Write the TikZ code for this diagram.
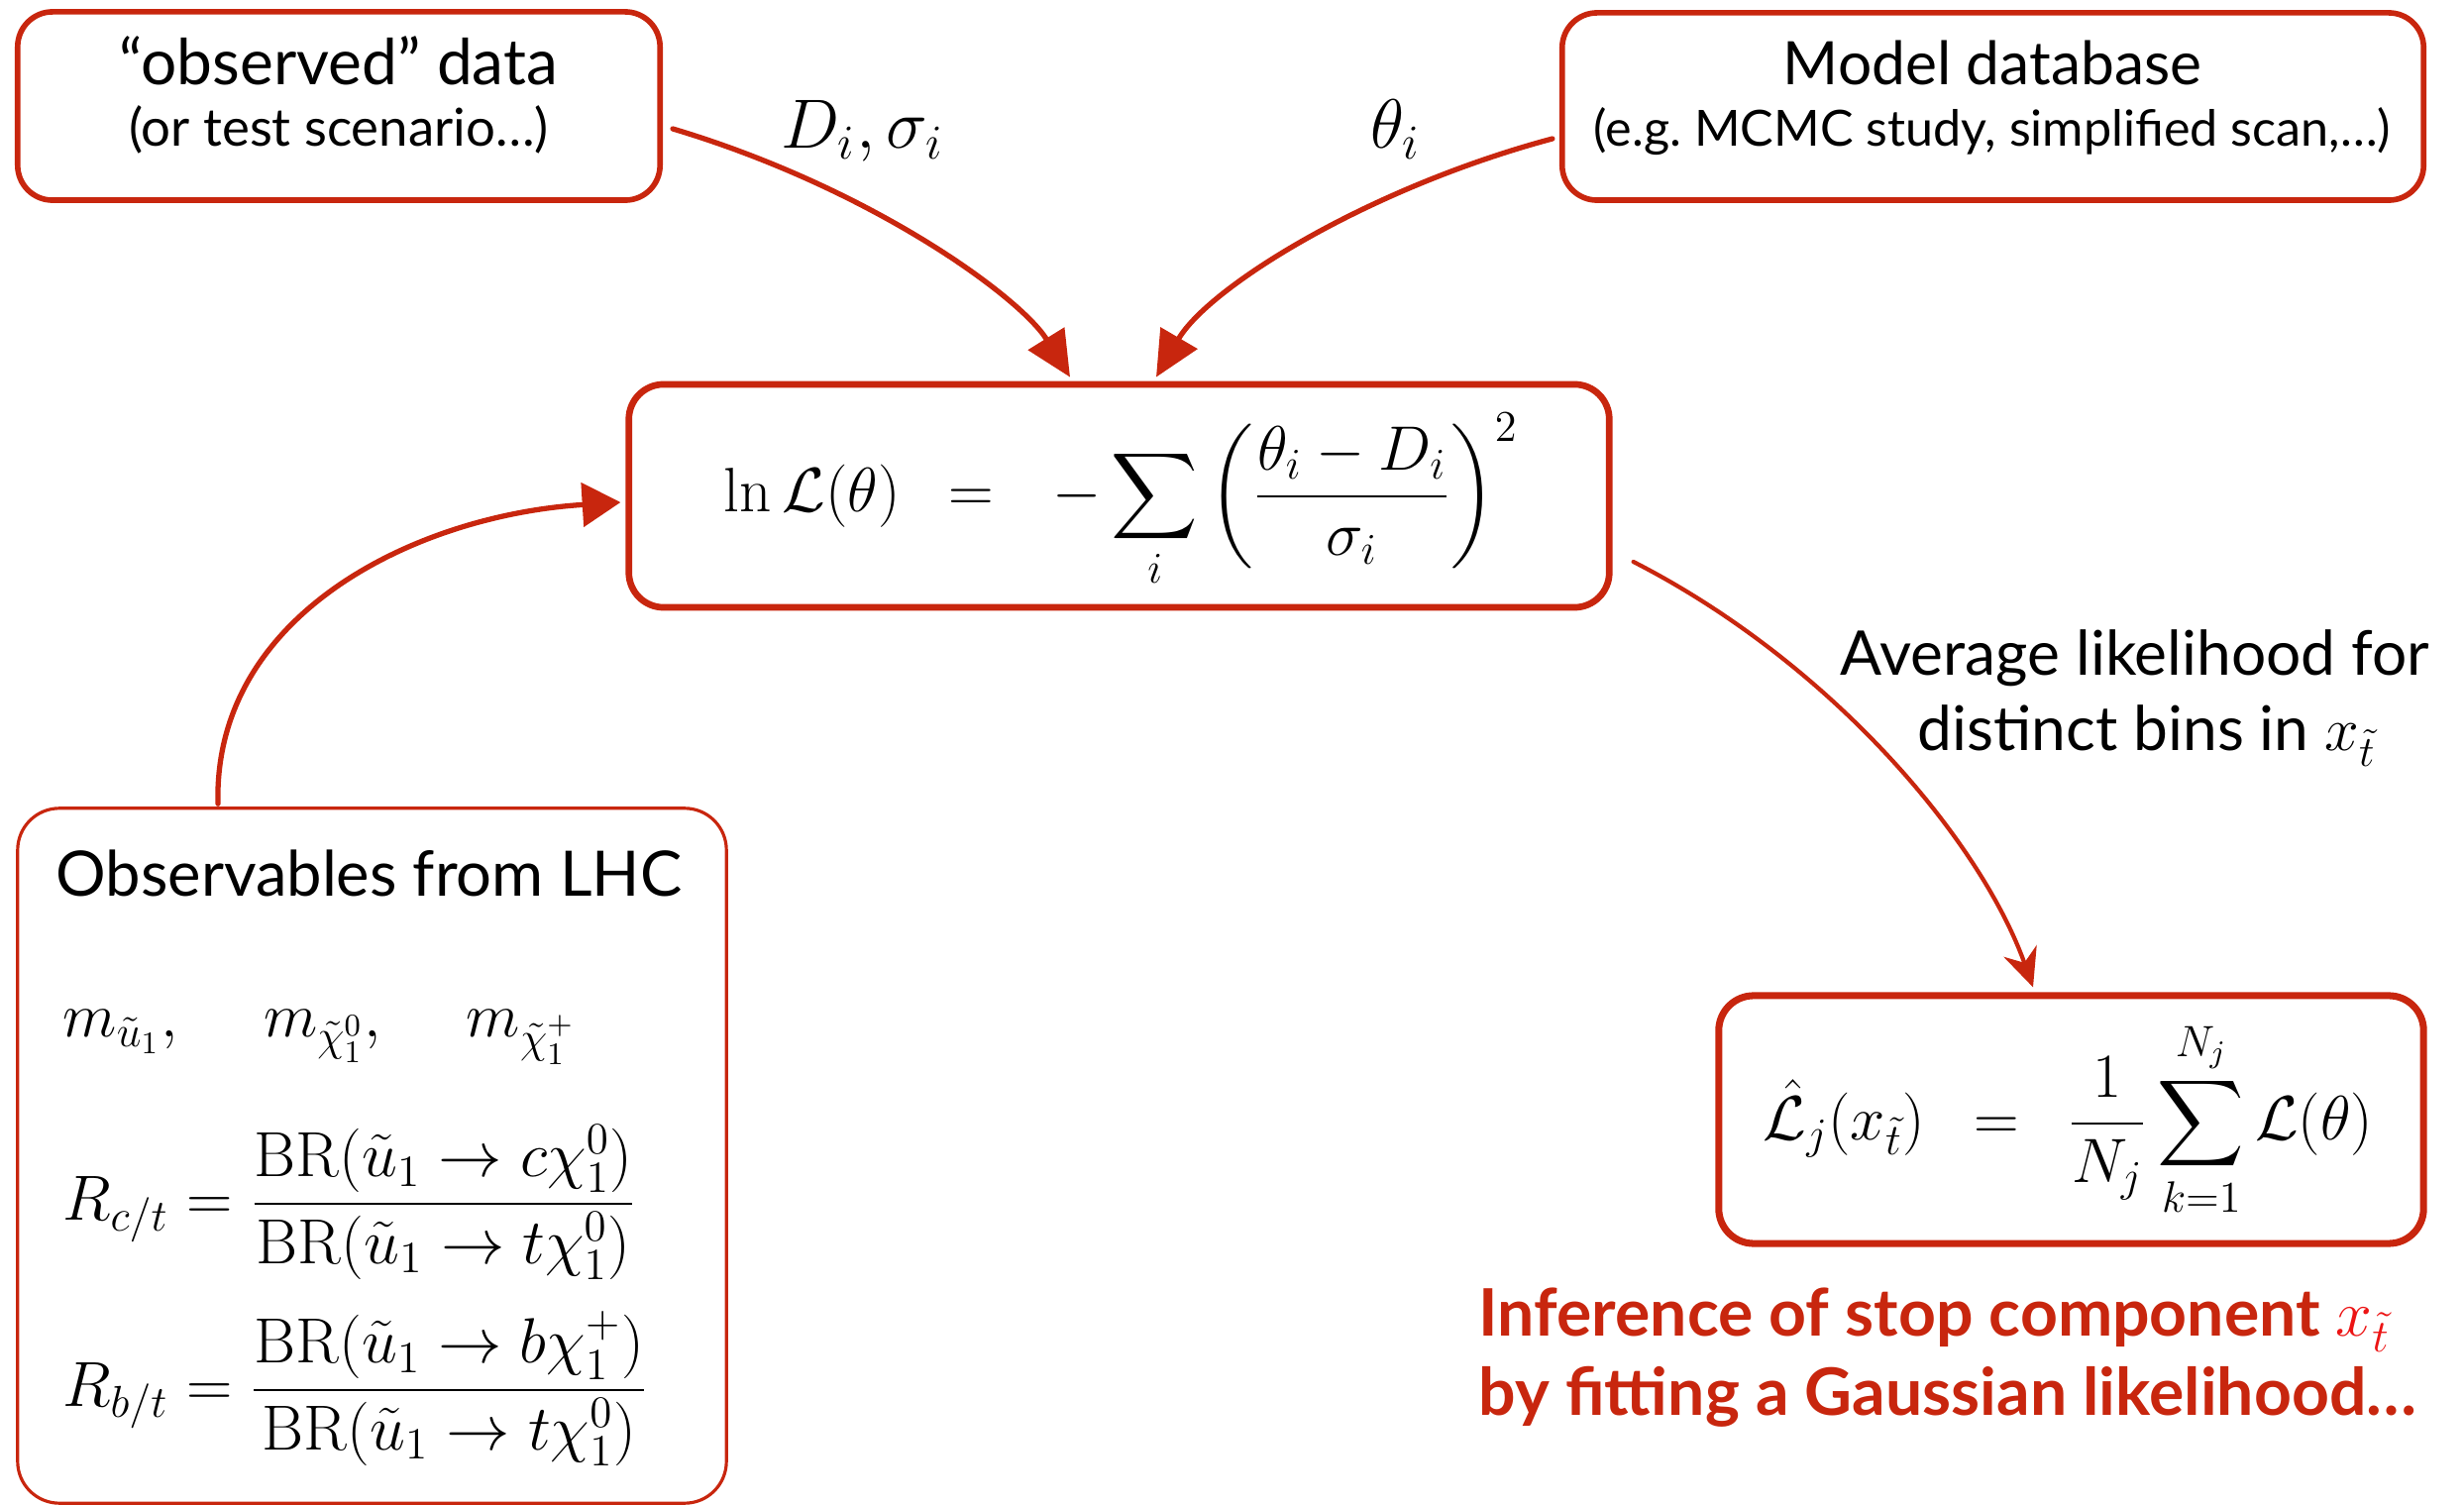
\RequirePackage{fix-cm}
\documentclass[tikz,border=0pt]{standalone}
\usepackage{amsmath}
\usepackage[no-math]{fontspec}
\setmainfont{Lato}
\usetikzlibrary{arrows.meta,calc}
\definecolor{brush}{RGB}{200,38,14}
\definecolor{mathred}{RGB}{236,20,20}
\begin{document}
\begin{tikzpicture}[x=0.01cm,y=-0.01cm,
  box/.style={draw=brush, rounded corners=10pt, inner sep=0pt},
  conn/.style={draw=brush, line width=1.5pt, line cap=round, -{Triangle[length=13pt,width=12pt]}},
  txt/.style={inner sep=0pt},
  mth/.style={inner sep=0pt, font=\fontsize{18}{22}\selectfont}
]
\useasboundingbox (0,0) rectangle (2487,1519);

% boxes
\node[box, line width=1.6pt, minimum width=6.48cm, minimum height=1.9cm] (obs) at (342,107) {};
\node[box, line width=1.6pt, minimum width=8.69cm, minimum height=1.89cm] (db) at (2011.5,107.5) {};
\node[box, line width=1.9pt, minimum width=9.89cm, minimum height=2.25cm] (lik) at (1129.5,500.5) {};
\node[box, line width=2pt, minimum width=7.11cm, minimum height=2.5cm] (avg) at (2090.5,1130) {};
\node[box, line width=0.9pt, rounded corners=12pt, minimum width=7.15cm, minimum height=7.01cm] (lhc) at (375.5,1166.5) {};

% box texts
\node[txt, anchor=base, font=\fontsize{18.2}{21}\selectfont] (obsT1) at (342,86) {“observed” data};
\node[txt, anchor=base, font=\fontsize{15}{18}\selectfont] (obsT2) at (342,148) {(or test scenario…)};
\node[txt, anchor=base, font=\fontsize{17.2}{20}\selectfont] (dbT1) at (2011,86) {Model database};
\node[txt, anchor=base, font=\fontsize{14.3}{17}\selectfont] (dbT2) at (2011,148) {(e.g.\ MCMC study, simplified scan,…)};

\node[mth, anchor=base west] (likF) at (730,517)
  {$\displaystyle \ln\mathcal{L}(\theta)\hspace{0.5em}=\hspace{0.65em}-\sum_i\left(\frac{\theta_i-D_i}{\sigma_i}\right)^{2}$};
\node[mth, anchor=base west] (avgF) at (1779,1150)
  {$\displaystyle \hat{\mathcal{L}}_j(x_{\tilde t})\hspace{0.5em}=\hspace{0.5em}\frac{1}{N_j}\sum_{k=1}^{N_j}\mathcal{L}(\theta)$};

\node[txt, anchor=base west, font=\fontsize{18}{21}\selectfont] (lhcT) at (56,905) {Observables from LHC};
\node[mth, anchor=base west] (lhcM) at (63,1047)
  {$m_{\tilde u_1},\hspace{1.2em} m_{\tilde\chi^0_1},\hspace{1.2em} m_{\tilde\chi^+_1}$};
\node[mth, anchor=base west, font=\fontsize{18.3}{22}\selectfont] (lhcR1) at (63,1231)
  {$\displaystyle R_{c/t}=\frac{\mathrm{BR}(\tilde u_1\to c\chi^0_1)}{\mathrm{BR}(\tilde u_1\to t\chi^0_1)}$};
\node[mth, anchor=base west, font=\fontsize{18.3}{22}\selectfont] (lhcR2) at (63,1419)
  {$\displaystyle R_{b/t}=\frac{\mathrm{BR}(\tilde u_1\to b\chi^+_1)}{\mathrm{BR}(\tilde u_1\to t\chi^0_1)}$};

% connector labels
\node[mth, anchor=base west, font=\fontsize{20}{24}\selectfont] (lblD) at (788,150) {$D_i,\sigma_i$};
\node[mth, anchor=base west, font=\fontsize{20}{24}\selectfont] (lblT) at (1383,150) {$\theta_i$};
\node[txt, anchor=base, font=\fontsize{17.7}{21}\selectfont] (avgL1) at (2155,682) {Average likelihood for};
\node[txt, anchor=base, font=\fontsize{17.7}{21}\selectfont] (avgL2) at (2167,758) {distinct bins in $x_{\tilde t}$};

\node[txt, anchor=base west, text=brush, font=\bfseries\fontsize{18.8}{22}\selectfont] (inf1) at (1492,1348)
  {Inference of stop component {\color{mathred}$x_{\tilde t}$}};
\node[txt, anchor=base west, text=brush, font=\bfseries\fontsize{18.8}{22}\selectfont] (inf2) at (1492,1428)
  {by fitting a Gaussian likelihood…};

% connectors
\draw[conn] ([shift={(10,23)}]obs.east) .. controls (880,190) and (1030,300) .. ([shift={(-49.5,-4)}]lik.north);
\draw[conn] ([shift={(-7,32.5)}]db.west) .. controls (1380,190) and (1220,290) .. ([shift={(37.5,-4)}]lik.north);
\draw[conn, -{Triangle[length=11pt,width=12.5pt]}] ([shift={(-155.5,-3)}]lhc.north) .. controls (215,620) and (420,520) .. ([shift={(-5,6.5)}]lik.west);
\draw[conn, line width=1.2pt, -{Stealth[length=11pt,width=10pt]}] ([shift={(21,66.5)}]lik.east) .. controls (1850,670) and (2000,850) .. ([shift={(-38.5,-5)}]avg.north);
\end{tikzpicture}
\end{document}
